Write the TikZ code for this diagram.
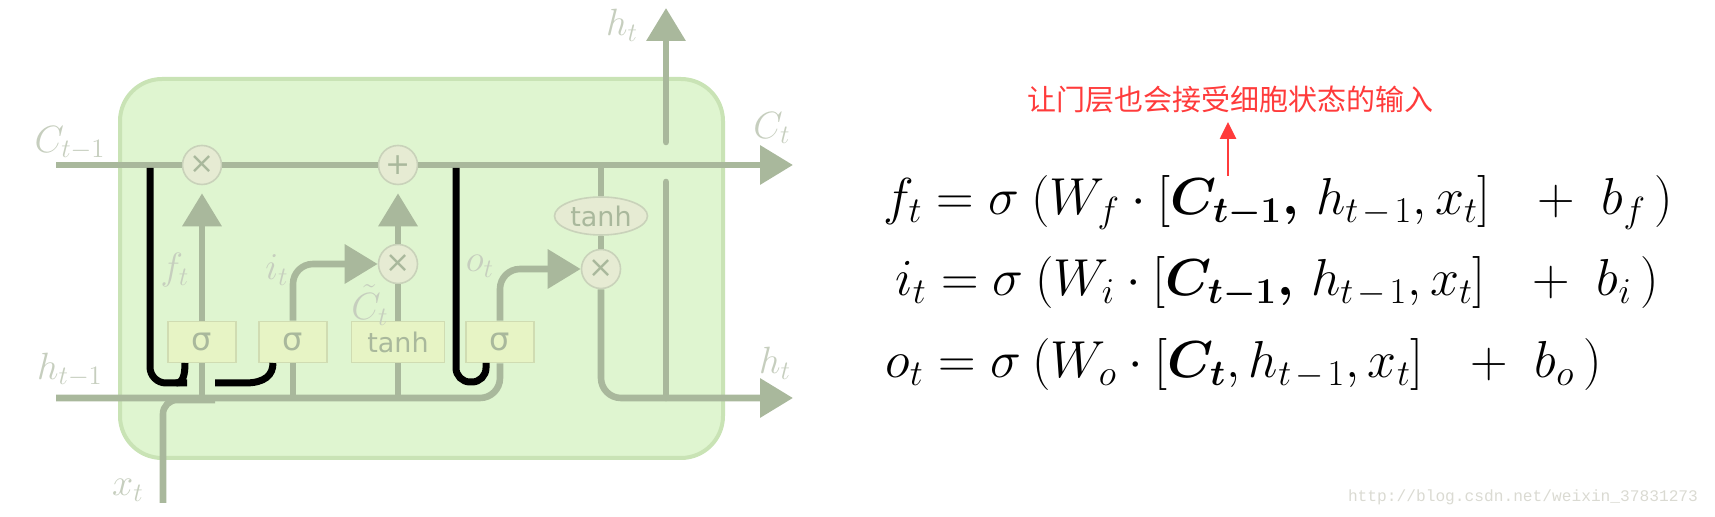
\RequirePackage{fix-cm}
\documentclass[tikz,border=0pt]{standalone}
\usepackage{amsmath,bm}
\usepackage{fontspec}
\newfontfamily\gatefont{DejaVu Sans}
\newfontfamily\cjk{Noto Sans CJK SC}
\newfontfamily\wmfont{Liberation Mono}
\usetikzlibrary{arrows.meta,shapes.geometric}
\definecolor{cellfill}{HTML}{DFF5D0}
\definecolor{celldraw}{HTML}{C9E3B5}
\definecolor{linec}{HTML}{A9B89C}
\definecolor{lblc}{HTML}{C6CEBE}
\definecolor{gatefill}{HTML}{E7F4C5}
\definecolor{gatedraw}{HTML}{D0DCB2}
\definecolor{opfill}{HTML}{E6EBD3}
\definecolor{opdraw}{HTML}{C9D2BA}
\definecolor{notered}{HTML}{FF3B3B}
\definecolor{wmgray}{HTML}{DADAD2}
\newcommand\hsub{h_{t\mkern2mu-\mkern2mu1}}

\begin{document}
\begin{tikzpicture}[x=0.5pt,y=-0.5pt,
  flow/.style={draw=linec,line width=3.3pt},
  arr/.style={-{Triangle[length=16.5pt,width=19pt]}},
  peep/.style={draw=black,line width=3.5pt},
  op/.style={shape=circle,draw=opdraw,fill=opfill,line width=0.8pt,minimum size=19.5pt,inner sep=0pt,text=linec,font=\gatefont\fontsize{15}{15}\selectfont},
  gate/.style={shape=rectangle,draw=gatedraw,fill=gatefill,line width=0.8pt,minimum height=20.5pt,minimum width=34pt,inner sep=0pt,text=linec,font=\gatefont\fontsize{16}{16}\selectfont},
  lbl/.style={text=lblc,inner sep=0pt,font=\fontsize{19}{19}\selectfont},
  eq/.style={anchor=base west,inner sep=0pt,font=\fontsize{26}{30}\selectfont}]
\useasboundingbox (0,0) rectangle (1715,517);

\node(cell) at (421.5,268.5)[shape=rectangle,draw=celldraw,fill=cellfill,line width=2pt,rounded corners=21pt,minimum width=301.5pt,minimum height=189.5pt]{};

\node(fmul) at (202,165)[op]{×};
\node(add) at (398,165)[op]{+};
\node(imul) at (398,264)[op]{×};
\node(omul) at (601,269)[op]{×};
\node(otanh) at (601,216)[op,shape=ellipse,minimum width=46.5pt,minimum height=19pt,font=\gatefont\fontsize{13.5}{13.5}\selectfont]{tanh};
\node(fgate) at (202,342)[gate]{σ};
\node(igate) at (293,342)[gate]{σ};
\node(ctanh) at (398,342)[gate,minimum width=46.5pt,font=\gatefont\fontsize{13.5}{13.5}\selectfont]{tanh};
\node(ogate) at (500,342)[gate]{σ};

\coordinate(cin) at (56,165);
\coordinate(cout) at (793,165);
\coordinate(cb) at (601,165);
\coordinate(hin) at (56,398);
\coordinate(hout) at (793,398);
\coordinate(hj) at (666,398);
\coordinate(hlow) at (666,182);
\coordinate(hup) at (666,142);
\coordinate(htop) at (666,8);
\coordinate(xin) at (163,503);
\coordinate(xj) at (215,400);

\draw[flow,arr] (cin) -- (fmul) -- (add) -- (cout);
\draw[flow,rounded corners=10pt] (hin) -| (ogate);
\draw[flow,rounded corners=7pt] (xin) |- (xj);
\draw[flow] (fgate) -- (fgate |- hin);
\draw[flow] (igate) -- (igate |- hin);
\draw[flow] (ctanh) -- (ctanh |- hin);
\draw[flow,arr,shorten >=4pt] (fgate) -- (fmul);
\draw[flow,arr,rounded corners=10pt] (igate) |- (imul);
\draw[flow] (ctanh) -- (imul);
\draw[flow,arr,shorten >=4pt] (imul) -- (add);
\draw[flow,arr,rounded corners=10pt] (ogate) |- (omul);
\draw[flow] (cb) -- (otanh);
\draw[flow] (otanh) -- (omul);
\draw[flow,arr,rounded corners=10pt] (omul) |- (hout);
\draw[flow,line cap=round] (hj) -- (hlow);
\draw[flow,arr,line cap=round] (hup) -- (htop);

\coordinate(pf) at (150,168);
\coordinate(pfb) at (187,383);
\coordinate(pfh) at (176,383);
\coordinate(pfe) at (185,363);
\coordinate(pi) at (215,383);
\coordinate(pim) at (245,383);
\coordinate(pie) at (273,363);
\coordinate(po) at (456,168);
\coordinate(pob) at (486,382);
\coordinate(poe) at (486,363);
\draw[peep,rounded corners=8pt] (pf) |- (pfb);
\draw[peep] (pfh) .. controls (183,383) and (185,375) .. (pfe);
\draw[peep] (pi) -- (pim) .. controls (265,383) and (273,375) .. (pie);
\draw[peep,rounded corners=7pt] (po) |- (pob) -- (poe);

\node(lc0) at (70,143)[lbl]{$C_{t-1}$};
\node(lh0) at (70,370)[lbl]{$h_{t-1}$};
\node(lx) at (128,490)[lbl]{$x_t$};
\node(lf) at (175,270)[lbl]{$f_t$};
\node(li) at (277,270)[lbl]{$i_t$};
\node(lct) at (370,305)[lbl]{$\tilde{C}_t$};
\node(lo) at (480,266)[lbl]{$o_t$};
\node(lht) at (622,25)[lbl]{$h_t$};
\node(lc1) at (772,128)[lbl]{$C_t$};
\node(lh1) at (775,363)[lbl]{$h_t$};

\node(eqf) at (883,215)[eq]{$f_t=\sigma\:(W_f\cdot[\bm{C_{t-1},}\,\hsub,x_t]\enspace\,+\ b_f\,)$};
\node(eqi) at (895,296)[eq]{$i_t=\sigma\:(W_i\cdot[\bm{C_{t-1},}\,\hsub,x_t]\enspace\,+\ b_i\,)$};
\node(eqo) at (885,378)[eq]{$o_t=\sigma\:(W_o\cdot[\bm{C_t},\hsub,x_t]\enspace\,+\ b_o\,)$};

\node(note) at (1230,100)[text=notered,inner sep=0pt,font=\cjk\fontsize{14.5}{14.5}\selectfont]{让门层也会接受细胞状态的输入};
\coordinate(rtail) at (1228,176);
\draw[draw=notered,line width=1.2pt,-{Triangle[length=8.5pt,width=8pt]},shorten >=4pt] (rtail) -- (rtail |- note.south);

\node(wm) at (1523,497)[text=wmgray,font=\wmfont\fontsize{8.1}{8.1}\selectfont]{http://blog.csdn.net/weixin\_37831273};
\end{tikzpicture}
\end{document}
